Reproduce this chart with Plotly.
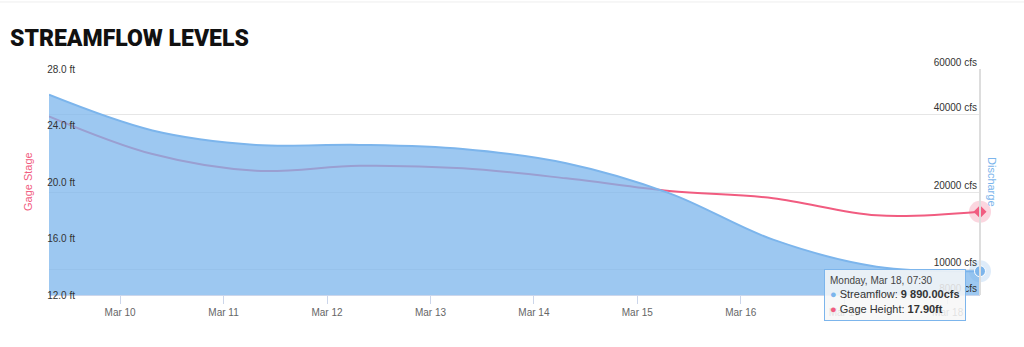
import plotly.graph_objects as go
import math

# ---- data ----
dates = ["2024-03-09 07:30", "2024-03-10 07:30", "2024-03-11 07:30", "2024-03-12 07:30",
         "2024-03-13 07:30", "2024-03-14 07:30", "2024-03-15 07:30", "2024-03-16 07:30",
         "2024-03-17 07:30", "2024-03-18 07:30"]
streamflow_cfs = [47700, 34700, 30500, 30500, 29400, 25900, 19800, 13100, 10300, 9890]
gage_height_ft = [24.65, 21.98, 20.80, 21.15, 20.97, 20.26, 19.36, 18.85, 17.64, 17.90]

left_ticks = [12, 16, 20, 24, 28]
left_labels = ["12.0 ft", "16.0 ft", "20.0 ft", "24.0 ft", "28.0 ft"]
right_ticks = [8000, 10000, 20000, 40000, 60000]
right_labels = ["8000 cfs", "10000 cfs", "20000 cfs", "40000 cfs", "60000 cfs"]
x_ticks = ["2024-03-10", "2024-03-11", "2024-03-12", "2024-03-13", "2024-03-14",
           "2024-03-15", "2024-03-16", "2024-03-17", "2024-03-18"]
x_labels = ["Mar 10", "Mar 11", "Mar 12", "Mar 13", "Mar 14", "Mar 15", "Mar 16", "Mar 17", "Mar 18"]

BLUE = "#7cb5ec"
PINK = "#f15c80"
FONT = "Liberation Sans, Arial, sans-serif"

fig = go.Figure()

# gage height line (drawn under the area fill)
fig.add_trace(go.Scatter(x=dates, y=gage_height_ft, mode="lines", yaxis="y",
                         line=dict(color=PINK, width=2, shape="spline", smoothing=1),
                         hoverinfo="skip", showlegend=False))
# baseline for area fill on log axis
fig.add_trace(go.Scatter(x=dates, y=[1] * len(dates), mode="lines", yaxis="y2",
                         line=dict(width=0, color="rgba(0,0,0,0)"),
                         hoverinfo="skip", showlegend=False))
fig.add_trace(go.Scatter(x=dates, y=streamflow_cfs, mode="lines", yaxis="y2",
                         fill="tonexty", fillcolor="rgba(124,181,236,0.75)",
                         line=dict(color=BLUE, width=2, shape="spline", smoothing=1),
                         hoverinfo="skip", showlegend=False))

# hovered last points (halo + marker)
fig.add_trace(go.Scatter(x=[dates[-1]], y=[gage_height_ft[-1]], mode="markers", yaxis="y",
                         marker=dict(color="rgba(241,92,128,0.25)", size=22, line=dict(width=0)),
                         hoverinfo="skip", showlegend=False, cliponaxis=False))
fig.add_trace(go.Scatter(x=[dates[-1]], y=[gage_height_ft[-1]], mode="markers", yaxis="y",
                         marker=dict(color=PINK, size=10, symbol="diamond", line=dict(width=0)),
                         hoverinfo="skip", showlegend=False, cliponaxis=False))
fig.add_trace(go.Scatter(x=[dates[-1]], y=[streamflow_cfs[-1]], mode="markers", yaxis="y2",
                         marker=dict(color="rgba(124,181,236,0.25)", size=22, line=dict(width=0)),
                         hoverinfo="skip", showlegend=False, cliponaxis=False))
fig.add_trace(go.Scatter(x=[dates[-1]], y=[streamflow_cfs[-1]], mode="markers", yaxis="y2",
                         marker=dict(color=BLUE, size=11, line=dict(width=1, color="white")),
                         hoverinfo="skip", showlegend=False, cliponaxis=False))

fig.update_layout(
    width=1024, height=347,
    margin=dict(l=49, r=44, t=69, b=52),
    paper_bgcolor="white", plot_bgcolor="white",
    font=dict(family=FONT, size=10, color="#333333"),
    hovermode=False,
    title=dict(text="STREAMFLOW LEVELS", x=0.0098, xanchor="left", y=0.89, yanchor="middle",
               font=dict(family="Roboto, Inter, sans-serif", size=23, color="#111111", weight=900)),
    xaxis=dict(type="date", range=[dates[0], dates[-1]],
               tickvals=x_ticks, ticktext=x_labels,
               tickfont=dict(size=10, color="#666666"),
               ticks="outside", ticklen=8, tickcolor="#ccd6eb", tickwidth=1,
               showline=True, linecolor="#ccd6eb", linewidth=1,
               showgrid=False, zeroline=False),
    yaxis=dict(range=[12, 28], tickvals=left_ticks, ticktext=left_labels,
               anchor="free", position=0.0279, side="left",
               ticklabelposition="outside", tickfont=dict(size=10, color="#333333"),
               showgrid=False, zeroline=False, showline=False, ticks=""),
    yaxis2=dict(type="log", overlaying="y", side="left", anchor="free", position=1,
                range=[math.log10(8000), math.log10(60000)],
                tickvals=right_ticks, ticktext=right_labels,
                ticklabelposition="outside top", tickfont=dict(size=10, color="#333333"),
                showgrid=True, gridcolor="#e6e6e6", gridwidth=1,
                showline=True, linecolor="#dddddd", linewidth=2,
                zeroline=False, ticks=""),
    shapes=[dict(type="line", xref="paper", yref="paper", x0=-0.06, x1=1.06,
                 y0=1.2965, y1=1.2965, line=dict(color="#eeeeee", width=1))],
    annotations=[
        dict(text="Gage Stage", xref="paper", yref="paper", x=0, y=0.5, xshift=-29,
             showarrow=False, textangle=-90, font=dict(size=11, color=PINK, family=FONT)),
        dict(text="Discharge", xref="paper", yref="paper", x=1, y=0.5, xshift=20,
             showarrow=False, textangle=90, font=dict(size=11, color=BLUE, family=FONT)),
        dict(text=("<span style='font-size:10px;color:#444'>Monday, Mar 18, 07:30</span><br>"
                   "<span style='color:%s'>●</span> Streamflow: <b>9 890.00cfs</b><br>"
                   "<span style='color:%s'>●</span> Gage Height: <b>17.90ft</b>") % (BLUE, PINK),
             x=dates[-1], y=math.log10(streamflow_cfs[-1]), xref="x", yref="y2",
             xanchor="right", yanchor="top", xshift=-14, yshift=2,
             showarrow=False, align="left",
             bgcolor="rgba(247,247,247,0.85)", bordercolor=BLUE, borderwidth=1, borderpad=5,
             font=dict(size=11, color="#333333", family=FONT)),
    ],
)

fig.write_html("out.html")
